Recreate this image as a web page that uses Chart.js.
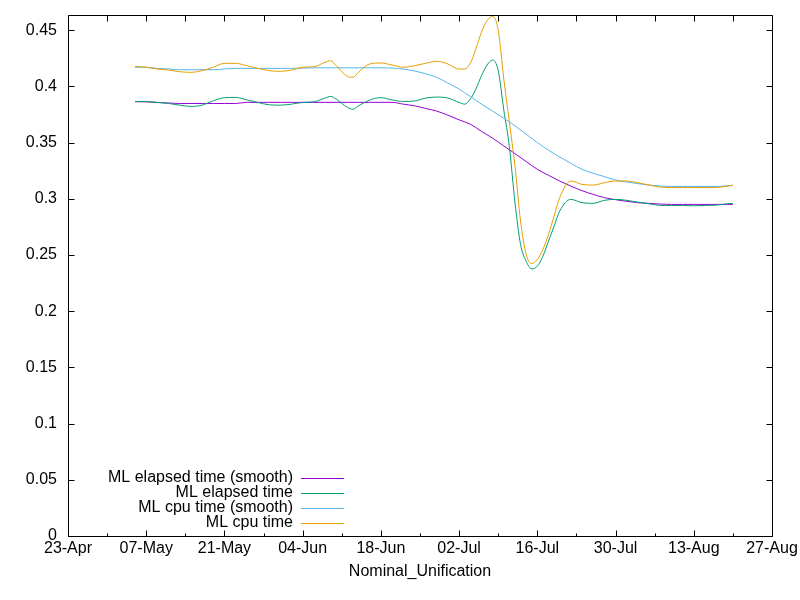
<!DOCTYPE html>
<html>
<head>
<meta charset="utf-8">
<script src="https://cdn.jsdelivr.net/npm/chart.js@4.4.1/dist/chart.umd.min.js"></script>
<style>
html,body{margin:0;padding:0;background:#fff;}
canvas{display:block;}
</style>
</head>
<body>
<canvas id="c" width="800" height="600"></canvas>
<script>
// ---- data (days counted from 23-Apr) ----
const xTickLabels = ['23-Apr','07-May','21-May','04-Jun','18-Jun','02-Jul','16-Jul','30-Jul','13-Aug','27-Aug'];

const rawDays = [12,14,16,18,20,22,24,26,28,30,32,34,36,38,40,42,44,46,47,48,50,51,52,54,56,58,60,62,64,66,68,70,71,72,73,74,75,76,77,78,79,80,81,82,83,84,85,86,87,88,90,92,94,96,98,100,102,104,106,108,110,112,114,116,118,119];

const cpuTime = [0.4178,0.4170,0.4154,0.4145,0.4130,0.4125,0.4140,0.4170,0.4205,0.4205,0.4184,0.4160,0.4140,0.4134,0.4145,0.4170,0.4175,0.4214,0.4228,0.4184,0.4089,0.4080,0.4125,0.4200,0.4208,0.4190,0.4170,0.4184,0.4205,0.4223,0.4199,0.4154,0.4154,0.4205,0.4333,0.4482,0.4585,0.4624,0.4500,0.4065,0.3680,0.3292,0.2801,0.2504,0.2424,0.2460,0.2549,0.2682,0.2846,0.3010,0.3158,0.3128,0.3122,0.3143,0.3158,0.3158,0.3143,0.3122,0.3104,0.3100,0.3100,0.3100,0.3100,0.3100,0.3113,0.3120];

const elapsedTime = [0.3866,0.3866,0.3857,0.3848,0.3833,0.3822,0.3833,0.3872,0.3899,0.3902,0.3880,0.3857,0.3836,0.3833,0.3842,0.3857,0.3863,0.3896,0.3911,0.3887,0.3813,0.3797,0.3827,0.3878,0.3900,0.3880,0.3866,0.3870,0.3896,0.3905,0.3896,0.3857,0.3842,0.3887,0.3976,0.4095,0.4190,0.4235,0.4140,0.3790,0.3460,0.2965,0.2593,0.2444,0.2376,0.2400,0.2489,0.2623,0.2756,0.2890,0.2995,0.2965,0.2960,0.2986,0.2995,0.2986,0.2970,0.2956,0.2941,0.2940,0.2940,0.2938,0.2941,0.2943,0.2956,0.2959];

const smoothDays = [12,14,16,18,20,22,24,26,28,30,32,34,36,38,40,42,44,46,48,50,52,54,56,58,60,62,64,66,68,70,72,74,76,78,80,82,84,86,88,90,92,94,96,98,100,102,104,106,108,110,112,114,116,118,119];

const cpuTimeSmooth = [0.4170,0.4170,0.4160,0.4155,0.4148,0.4148,0.4148,0.4148,0.4155,0.4160,0.4160,0.4160,0.4160,0.4160,0.4160,0.4162,0.4165,0.4165,0.4165,0.4165,0.4165,0.4165,0.4165,0.4163,0.4154,0.4137,0.4112,0.4080,0.4030,0.3976,0.3910,0.3842,0.3780,0.3717,0.3649,0.3574,0.3500,0.3432,0.3372,0.3316,0.3262,0.3227,0.3197,0.3167,0.3149,0.3135,0.3122,0.3113,0.3110,0.3110,0.3110,0.3110,0.3110,0.3115,0.3120];

const elapsedTimeSmooth = [0.3864,0.3862,0.3857,0.3852,0.3848,0.3848,0.3848,0.3848,0.3848,0.3848,0.3858,0.3858,0.3858,0.3858,0.3858,0.3858,0.3858,0.3858,0.3858,0.3858,0.3858,0.3858,0.3858,0.3858,0.3842,0.3827,0.3804,0.3780,0.3744,0.3702,0.3664,0.3600,0.3539,0.3470,0.3402,0.3331,0.3262,0.3209,0.3158,0.3113,0.3072,0.3039,0.3010,0.2992,0.2977,0.2965,0.2959,0.2953,0.2950,0.2950,0.2950,0.2950,0.2950,0.2950,0.2950];

const seriesNames = ['ML elapsed time (smooth)','ML elapsed time','ML cpu time (smooth)','ML cpu time'];
const seriesColors = ['#9400d3','#009e73','#56b4e9','#e69f00'];

// ---- chart ----
const FONT = 'Liberation Sans, Arial, sans-serif';
Chart.defaults.font.family = FONT;
Chart.defaults.font.size = 16;
Chart.defaults.color = '#000';

function pts(xs, ys){ return xs.map((x,i)=>({x:x, y:ys[i]})); }
function ds(idx, xs, ys){
  return {label: seriesNames[idx], data: pts(xs, ys), borderColor: seriesColors[idx],
    backgroundColor: seriesColors[idx], borderWidth: 1, pointRadius: 0, fill: false,
    cubicInterpolationMode: 'monotone'};
}

const framePlugin = {
  id: 'frame',
  afterDraw(chart){
    const ctx = chart.ctx, a = chart.chartArea;
    const xs = chart.scales.x, ys = chart.scales.y;
    ctx.save();
    ctx.strokeStyle = '#000';
    ctx.lineWidth = 1;
    const L = Math.round(a.left)+0.5, R = Math.round(a.right)+0.5, T = Math.round(a.top)+0.5, B = Math.round(a.bottom)+0.5;
    ctx.beginPath();
    ctx.rect(L, T, R-L, B-T);
    // y ticks
    ys.ticks.forEach(t => {
      const y = Math.round(ys.getPixelForValue(t.value))+0.5;
      ctx.moveTo(L, y); ctx.lineTo(L+6, y);
      ctx.moveTo(R, y); ctx.lineTo(R-6, y);
    });
    // x ticks every 7 days
    for (let v = xs.min; v <= xs.max; v += 7) {
      const x = Math.round(xs.getPixelForValue(v))+0.5;
      const major = (v % 14) === 0;
      ctx.moveTo(x, B); ctx.lineTo(x, B - (major ? 6 : 3));
      ctx.moveTo(x, T); ctx.lineTo(x, T + 6);
    }
    ctx.stroke();
    // legend
    ctx.font = '16px ' + FONT;
    ctx.textAlign = 'right';
    ctx.textBaseline = 'middle';
    ctx.fillStyle = '#000';
    for (let i = 0; i < seriesNames.length; i++) {
      const y = 478 + i*15;
      ctx.fillText(seriesNames[i], 293, y);
      ctx.beginPath();
      ctx.strokeStyle = seriesColors[i];
      ctx.moveTo(301, y+0.5); ctx.lineTo(344, y+0.5);
      ctx.stroke();
    }
    ctx.restore();
  }
};

new Chart(document.getElementById('c'), {
  type: 'line',
  data: {
    datasets: [
      ds(3, rawDays, cpuTime),
      ds(2, smoothDays, cpuTimeSmooth),
      ds(1, rawDays, elapsedTime),
      ds(0, smoothDays, elapsedTimeSmooth)
    ]
  },
  options: {
    responsive: false,
    devicePixelRatio: 1,
    animation: false,
    events: [],
    layout: {padding: {left: 0, right: 28, top: 15, bottom: 0}},
    plugins: {legend: {display: false}, tooltip: {enabled: false}},
    scales: {
      x: {
        type: 'linear', min: 0, max: 126,
        grid: {display: false, drawTicks: false},
        border: {display: false},
        ticks: {stepSize: 14, includeBounds: false, autoSkip: false, maxRotation: 0, padding: 3,
          callback: (v, i) => xTickLabels[i]},
        title: {display: true, text: 'Nominal_Unification', padding: {top: 0, bottom: 19}},
        afterFit: s => { s.height = 64; s.paddingLeft = 0; s.paddingRight = 0; }
      },
      y: {
        type: 'linear', min: 0, max: 0.4635,
        grid: {display: false, drawTicks: false},
        border: {display: false},
        ticks: {stepSize: 0.05, includeBounds: false, padding: 11,
          callback: v => String(+v.toFixed(2))},
        afterFit: s => { s.width = 68; s.paddingTop = 0; s.paddingBottom = 0; }
      }
    }
  },
  plugins: [framePlugin]
});
</script>
</body>
</html>
